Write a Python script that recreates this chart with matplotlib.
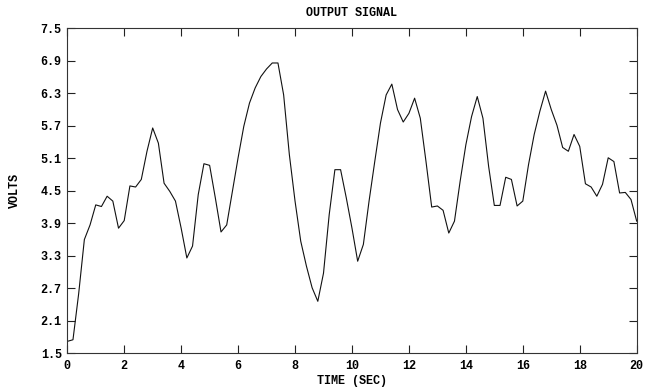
import numpy as np
import matplotlib
matplotlib.use("Agg")
import matplotlib.pyplot as plt

# Sampled output signal, one reading every 0.2 s
time_sec = np.round(np.arange(0, 20.0001, 0.2), 1)
volts = [
    1.72, 1.75, 2.60, 3.60, 3.87, 4.24, 4.21, 4.40, 4.31, 3.81,
    3.95, 4.59, 4.57, 4.71, 5.23, 5.66, 5.38, 4.64, 4.49, 4.31,
    3.81, 3.26, 3.48, 4.43, 5.00, 4.97, 4.37, 3.74, 3.87, 4.49,
    5.11, 5.69, 6.12, 6.40, 6.61, 6.75, 6.86, 6.86, 6.27, 5.17,
    4.31, 3.57, 3.11, 2.71, 2.46, 2.98, 4.06, 4.89, 4.89, 4.37,
    3.81, 3.20, 3.51, 4.31, 5.04, 5.75, 6.27, 6.47, 6.00, 5.77,
    5.93, 6.21, 5.84, 5.04, 4.20, 4.22, 4.14, 3.72, 3.94, 4.68,
    5.35, 5.87, 6.24, 5.84, 4.95, 4.23, 4.23, 4.75, 4.71, 4.22,
    4.31, 4.98, 5.54, 5.97, 6.34, 6.00, 5.71, 5.30, 5.23, 5.54,
    5.32, 4.63, 4.57, 4.40, 4.62, 5.11, 5.04, 4.46, 4.47, 4.34,
    3.94,
]

x_ticks = list(range(0, 21, 2))
y_ticks = [1.5, 2.1, 2.7, 3.3, 3.9, 4.5, 5.1, 5.7, 6.3, 6.9, 7.5]

FONT = dict(family=["Liberation Mono", "DejaVu Sans Mono"], weight="bold", size=8.5)

fig = plt.figure(figsize=(6.45, 3.9), dpi=100)
ax = fig.add_axes([0.1043, 0.0941, 0.8828, 0.8333])

ax.plot(time_sec, volts, color="#111111", linewidth=0.8)

ax.set_xlim(0, 20)
ax.set_ylim(1.5, 7.5)
ax.set_xticks(x_ticks)
ax.set_yticks(y_ticks)
ax.set_xticklabels([str(v) for v in x_ticks], fontdict=FONT)
ax.set_yticklabels([f"{v:.1f}" for v in y_ticks], fontdict=FONT)

ax.tick_params(axis="both", direction="in", length=5.8, width=0.8,
               top=True, right=True, color="#222222")
ax.tick_params(axis="x", pad=5)
ax.tick_params(axis="y", pad=4)

for sp in ax.spines.values():
    sp.set_linewidth(0.8)
    sp.set_color("#333333")

ax.set_title("OUTPUT SIGNAL", fontdict=FONT, pad=9)
ax.set_xlabel("TIME (SEC)", fontdict=FONT, labelpad=2)
ax.set_ylabel("VOLTS", fontdict=FONT, labelpad=14)

fig.savefig("out.png", dpi=100, facecolor="white")
